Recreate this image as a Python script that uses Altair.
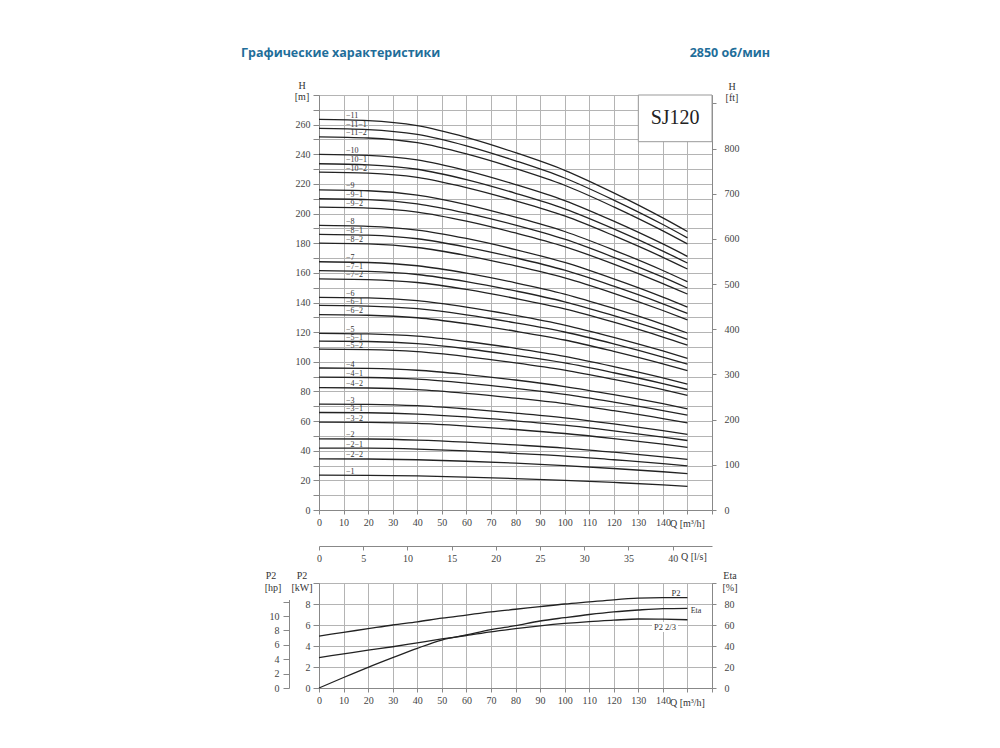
import altair as alt
import pandas as pd

# ---------------- data ----------------
Q = [0, 20, 40, 60, 80, 100, 120, 140, 150]

H_1    = [23.5, 23.4, 23.0, 22.2, 21.2, 20.0, 18.6, 17.0, 16.0]
H_2_2  = [34.5, 34.4, 33.9, 32.9, 31.6, 30.0, 28.0, 25.8, 24.6]
H_2_1  = [41.8, 41.7, 41.1, 39.9, 38.2, 36.4, 33.9, 31.3, 29.8]
H_2    = [48.0, 47.9, 47.2, 45.8, 43.9, 41.8, 39.0, 35.9, 34.2]
H_3_2  = [59.3, 59.1, 58.4, 56.6, 54.3, 51.6, 48.2, 44.4, 42.3]
H_3_1  = [65.8, 65.6, 64.7, 62.8, 60.2, 57.2, 53.4, 49.2, 46.9]
H_3    = [71.5, 71.3, 70.4, 68.2, 65.4, 62.2, 58.1, 53.5, 51.0]
H_4_2  = [82.5, 82.3, 81.2, 78.7, 75.5, 71.8, 67.0, 61.7, 58.8]
H_4_1  = [89.7, 89.4, 88.3, 85.6, 82.1, 78.0, 72.8, 67.1, 64.0]
H_4    = [95.8, 95.5, 94.3, 91.4, 87.7, 83.3, 77.8, 71.7, 68.3]
H_5_2  = [108.5, 108.2, 106.8, 103.5, 99.3, 94.4, 88.1, 81.2, 77.4]
H_5_1  = [114.0, 113.7, 112.2, 108.8, 104.3, 99.2, 92.6, 85.3, 81.3]
H_5    = [119.2, 118.8, 117.3, 113.7, 109.1, 103.7, 96.8, 89.2, 85.0]
H_6_2  = [131.8, 131.4, 129.7, 125.7, 120.6, 114.7, 107.0, 98.6, 94.0]
H_6_1  = [138.0, 137.6, 135.8, 131.7, 126.3, 120.1, 112.1, 103.2, 98.4]
H_6    = [143.5, 143.1, 141.2, 136.9, 131.3, 124.8, 116.5, 107.3, 102.3]
H_7_2  = [156.0, 155.5, 153.5, 148.8, 142.7, 135.7, 126.7, 116.7, 111.2]
H_7_1  = [161.5, 161.0, 158.9, 154.1, 147.8, 140.5, 131.1, 120.8, 115.1]
H_7    = [167.5, 167.0, 164.8, 159.8, 153.3, 145.7, 136.0, 125.3, 119.4]
H_8_2  = [180.0, 179.5, 177.1, 171.7, 164.7, 156.6, 146.2, 134.6, 128.3]
H_8_1  = [186.0, 185.4, 183.0, 177.4, 170.2, 161.8, 151.0, 139.1, 132.6]
H_8    = [192.0, 191.4, 188.9, 183.2, 175.7, 167.0, 155.9, 143.6, 136.9]
H_9_2  = [204.3, 203.7, 201.0, 194.9, 186.9, 177.7, 165.9, 152.8, 145.7]
H_9_1  = [210.0, 209.4, 206.6, 200.3, 192.2, 182.7, 170.5, 157.1, 149.7]
H_9    = [216.0, 215.4, 212.5, 206.1, 197.6, 187.9, 175.4, 161.6, 154.0]
H_10_2 = [228.0, 227.3, 224.4, 217.5, 208.6, 198.4, 185.1, 170.5, 162.6]
H_10_1 = [233.6, 232.9, 229.9, 222.9, 213.7, 203.2, 189.7, 174.7, 166.6]
H_10   = [240.0, 239.3, 236.2, 229.0, 219.6, 208.8, 194.9, 179.5, 171.1]
H_11_2 = [251.8, 251.0, 247.8, 240.2, 230.4, 219.1, 204.5, 188.3, 179.5]
H_11_1 = [257.5, 256.7, 253.4, 245.7, 235.6, 224.0, 209.1, 192.6, 183.6]
H_11   = [263.5, 262.7, 259.3, 251.4, 241.1, 229.2, 214.0, 197.1, 187.9]

curves = [
    ("−1", H_1),
    ("−2−2", H_2_2), ("−2−1", H_2_1), ("−2", H_2),
    ("−3−2", H_3_2), ("−3−1", H_3_1), ("−3", H_3),
    ("−4−2", H_4_2), ("−4−1", H_4_1), ("−4", H_4),
    ("−5−2", H_5_2), ("−5−1", H_5_1), ("−5", H_5),
    ("−6−2", H_6_2), ("−6−1", H_6_1), ("−6", H_6),
    ("−7−2", H_7_2), ("−7−1", H_7_1), ("−7", H_7),
    ("−8−2", H_8_2), ("−8−1", H_8_1), ("−8", H_8),
    ("−9−2", H_9_2), ("−9−1", H_9_1), ("−9", H_9),
    ("−10−2", H_10_2), ("−10−1", H_10_1), ("−10", H_10),
    ("−11−2", H_11_2), ("−11−1", H_11_1), ("−11", H_11),
]

Q_p = [0, 10, 20, 30, 40, 50, 60, 70, 80, 90, 100, 110, 120, 130, 140, 150]
P2_kw    = [4.95, 5.3, 5.65, 6.0, 6.3, 6.65, 6.95, 7.25, 7.5, 7.75, 8.0, 8.2, 8.4, 8.55, 8.6, 8.6]
P2_23_kw = [2.9, 3.25, 3.6, 3.93, 4.3, 4.67, 5.0, 5.35, 5.65, 5.92, 6.15, 6.33, 6.46, 6.57, 6.55, 6.5]
Eta_pct  = [0, 10, 19.7, 28.9, 37.8, 45.7, 50.5, 55.5, 59.4, 63.8, 67, 70, 72.5, 74.3, 75.6, 75.9]

x_ticks = list(range(0, 161, 10))
h_ticks = list(range(0, 281, 10))
ft_ticks = list(range(0, 901, 100))
ls_ticks = list(range(0, 41, 5))
kw_ticks = list(range(0, 11, 2))
eta_ticks = list(range(0, 101, 20))
hp_ticks = list(range(0, 13, 2))

# ---------------- frames ----------------
rows = []
for name, hs in curves:
    for q, h in zip(Q, hs):
        rows.append({"curve": name, "Q": q, "H": h})
df_curves = pd.DataFrame(rows)
df_labels = pd.DataFrame({"curve": [c[0] for c in curves],
                          "H": [c[1][0] for c in curves],
                          "Q": [11] * len(curves)})

rows = []
for q, a, b in zip(Q_p, P2_kw, P2_23_kw):
    rows.append({"Q": q, "kW": a, "s": "P2"})
    rows.append({"Q": q, "kW": b, "s": "P2 2/3"})
df_p = pd.DataFrame(rows)
df_eta = pd.DataFrame({"Q": Q_p, "eta": Eta_pct})

W, H1, H2 = 393, 415, 105
LINE = "#222222"
SERIF = "Liberation Serif"

def ptext(txt, x, y, size=10, align="center", font=SERIF, color="#333333", weight="normal", baseline="middle"):
    return alt.Chart(pd.DataFrame({"t": [txt]})).mark_text(
        align=align, baseline=baseline, fontSize=size, font=font, color=color, fontWeight=weight
    ).encode(x=alt.value(x), y=alt.value(y), text="t:N")

X_AXIS = alt.Axis(values=x_ticks, labelExpr="datum.value <= 140 ? datum.label : ''",
                  grid=True, title=None, tickSize=4, labelOverlap=False, labelFlush=False,
                  labelPadding=3)
H_AXIS = alt.Axis(values=h_ticks,
                  labelExpr="datum.value % 20 == 0 && datum.value < 280 ? datum.label : ''",
                  grid=True, title=None, tickSize=6, labelOverlap=False, labelFlush=False,
                  labelPadding=3)
KW_AXIS = alt.Axis(values=kw_ticks, labelExpr="datum.value < 10 ? datum.label : ''",
                   grid=True, title=None, tickSize=6, labelOverlap=False,
                   labelFlush=False, labelPadding=3)

XSC = alt.Scale(domain=[0, 160], nice=False, zero=False)
HSC = alt.Scale(domain=[0, 280], nice=False)

# ---------------- top panel ----------------
lines = alt.Chart(df_curves).mark_line(interpolate="monotone", color=LINE, strokeWidth=1.3).encode(
    x=alt.X("Q:Q", scale=XSC, axis=X_AXIS),
    y=alt.Y("H:Q", scale=HSC, axis=H_AXIS),
    detail="curve:N",
)
labels = alt.Chart(df_labels).mark_text(align="left", baseline="alphabetic", dy=-1.5,
                                         fontSize=8, font=SERIF, color="#333333").encode(
    x=alt.X("Q:Q", scale=XSC, axis=X_AXIS),
    y=alt.Y("H:Q", scale=HSC, axis=H_AXIS),
    text="curve:N")

df_box = pd.DataFrame({"Q": [130], "Q2": [160], "H": [248.5], "H2": [280]})
box = alt.Chart(df_box).mark_rect(fill="white", stroke="#999999", strokeWidth=1).encode(
    x=alt.X("Q:Q", scale=XSC, axis=X_AXIS), x2="Q2",
    y=alt.Y("H:Q", scale=HSC, axis=H_AXIS), y2="H2")
df_box_t = pd.DataFrame({"t": ["SJ120"], "Q": [145], "H": [264.5]})
box_txt = alt.Chart(df_box_t).mark_text(fontSize=20, font=SERIF, color="#222222").encode(
    x=alt.X("Q:Q", scale=XSC, axis=X_AXIS),
    y=alt.Y("H:Q", scale=HSC, axis=H_AXIS), text="t:N")

inner_top = alt.layer(
    lines, labels, box, box_txt,
    ptext("Q [m³/h]", 351, H1 + 14, align="left", size=10),
    ptext("Q [l/s]", 362, H1 + 47, align="left", size=10),
    ptext("H", -17, -9), ptext("[m]", -17, 2),
    ptext("H", 413, -8), ptext("[ft]", 413, 3),
    ptext("Графические характеристики", -78, -42, size=12.5, align="left",
          font="Open Sans", color="#1f6e9a", weight="bold"),
    ptext("2850 об/мин", 451, -42, size=12.5, align="right",
          font="Open Sans", color="#1f6e9a", weight="bold"),
)

ft_layer = alt.Chart(pd.DataFrame({"ft": [0]})).mark_rule(opacity=0).encode(
    y=alt.Y("ft:Q", scale=alt.Scale(domain=[0, 918.6], nice=False),
            axis=alt.Axis(orient="right", values=ft_ticks,
                          labelExpr="datum.value <= 800 ? datum.label : ''",
                          grid=False, title=None, tickSize=4, labelOverlap=False,
                          labelFlush=False, labelPadding=8)))

ls_layer = alt.Chart(pd.DataFrame({"ls": [0]})).mark_rule(opacity=0).encode(
    x=alt.X("ls:Q", scale=alt.Scale(domain=[0, 160 / 3.6], nice=False, zero=False),
            axis=alt.Axis(orient="bottom", offset=36, values=ls_ticks, grid=False, title=None,
                          tickSize=4, labelOverlap=False, labelFlush=False, labelPadding=3)))

top = alt.layer(inner_top, ft_layer, ls_layer).resolve_scale(
    x="independent", y="independent").properties(width=W, height=H1)

# ---------------- bottom panel ----------------
p_lines = alt.Chart(df_p).mark_line(interpolate="monotone", color=LINE, strokeWidth=1.3).encode(
    x=alt.X("Q:Q", scale=XSC, axis=X_AXIS),
    y=alt.Y("kW:Q", scale=alt.Scale(domain=[0, 10], nice=False), axis=KW_AXIS),
    detail="s:N",
)
lab_bg = alt.Chart(pd.DataFrame({"a": [0]})).mark_rect(fill="white").encode(
    x=alt.value(333), x2=alt.value(359), y=alt.value(39), y2=alt.value(49))

inner_bottom = alt.layer(
    p_lines, lab_bg,
    ptext("P2", 357, 10, size=8.5), ptext("Eta", 377, 28, size=8),
    ptext("P2  2/3", 346, 44, size=8.5),
    ptext("Q [m³/h]", 351, H2 + 15, align="left", size=10),
    ptext("P2", -17, -7), ptext("[kW]", -17, 5),
    ptext("P2", -48, -7), ptext("[hp]", -46, 5),
    ptext("Eta", 411, -7), ptext("[%]", 411, 5),
)

eta_layer = alt.Chart(df_eta).mark_line(interpolate="monotone", color=LINE, strokeWidth=1.3).encode(
    x=alt.X("Q:Q", scale=XSC, axis=X_AXIS),
    y=alt.Y("eta:Q", scale=alt.Scale(domain=[0, 100], nice=False),
            axis=alt.Axis(orient="right", values=eta_ticks,
                          labelExpr="datum.value < 100 ? datum.label : ''",
                          grid=False, title=None, tickSize=4, labelOverlap=False,
                          labelFlush=False, labelPadding=8)),
)

hp_layer = alt.Chart(pd.DataFrame({"hp": [0]})).mark_rule(opacity=0).encode(
    y=alt.Y("hp:Q", scale=alt.Scale(domain=[0, 12.3], range=[H2, 16.5], nice=False),
            axis=alt.Axis(orient="left", offset=30, values=hp_ticks,
                          labelExpr="datum.value <= 10 ? datum.label : ''",
                          grid=False, title=None, tickSize=6, labelOverlap=False,
                          labelFlush=False, labelPadding=4)))

bottom = alt.layer(inner_bottom, eta_layer, hp_layer).resolve_scale(
    y="independent").properties(width=W, height=H2)

chart = alt.vconcat(top, bottom, spacing=73, bounds="flush").properties(
    padding={"left": 232, "top": 38, "right": 5, "bottom": 5}
).configure_view(stroke="#9a9a9a", strokeWidth=1).configure_axis(
    labelFont=SERIF, labelFontSize=10, labelColor="#444444",
    tickColor="#888888", domainColor="#888888",
    gridColor="#b4b4b4", gridWidth=1,
)

chart.save("out.html", embed_options={"renderer": "svg", "actions": False})
